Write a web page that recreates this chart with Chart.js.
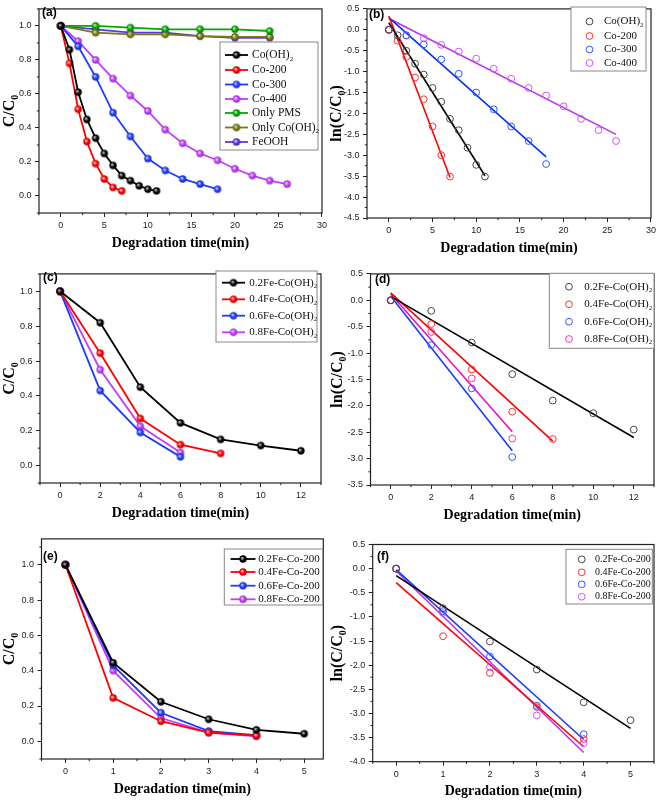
<!DOCTYPE html>
<html><head><meta charset="utf-8">
<script src="https://cdn.jsdelivr.net/npm/chart.js@4.4.1/dist/chart.umd.min.js"></script>
<style>
html,body{margin:0;padding:0;background:#fff;}
body{position:relative;width:659px;height:800px;overflow:hidden;}
canvas{position:absolute;}
</style></head><body>
<canvas id="ca"></canvas><canvas id="cb"></canvas>
<canvas id="cc"></canvas><canvas id="cd"></canvas>
<canvas id="ce"></canvas><canvas id="cf"></canvas>
<script>
// ---------------- DATA ----------------
const xTitle = 'Degradation time(min)';
const yTitleC = 'C/C_0';
const yTitleLn = 'ln(C/C_0)';

// (a) C/C0 vs time
const aT_CoOH2 = [0,1,2,3,4,5,6,7,8,9,10,11];
const aV_CoOH2 = [1.0,0.86,0.61,0.45,0.34,0.25,0.18,0.12,0.09,0.06,0.04,0.03];
const aT_Co200 = [0,1,2,3,4,5,6,7];
const aV_Co200 = [1.0,0.78,0.51,0.32,0.19,0.10,0.05,0.03];
const aT_Co300 = [0,2,4,6,8,10,12,14,16,18];
const aV_Co300 = [1.0,0.88,0.70,0.49,0.35,0.22,0.15,0.10,0.07,0.04];
const aT_Co400 = [0,2,4,6,8,10,12,14,16,18,20,22,24,26];
const aV_Co400 = [1.0,0.91,0.80,0.69,0.59,0.50,0.39,0.31,0.25,0.21,0.16,0.12,0.09,0.07];
const aT_ctrl = [0,4,8,12,16,20,24];
const aV_PMS = [1.0,1.0,0.99,0.98,0.98,0.98,0.97];
const aV_onlyCo = [1.0,0.96,0.95,0.95,0.94,0.935,0.935];
const aV_FeOOH = [1.0,0.98,0.96,0.96,0.94,0.93,0.93];
const aLabels = ['Co(OH)_2','Co-200','Co-300','Co-400','Only PMS','Only Co(OH)_2','FeOOH'];

// (b) ln(C/C0) vs time
const bV_CoOH2 = [0,-0.13,-0.50,-0.81,-1.07,-1.39,-1.72,-2.13,-2.40,-2.82,-3.23,-3.51];
const bV_Co200 = [0,-0.26,-0.65,-1.14,-1.66,-2.31,-3.00,-3.51];
const bV_Co300 = [0,-0.13,-0.35,-0.71,-1.05,-1.50,-1.90,-2.31,-2.66,-3.21];
const bV_Co400 = [0,-0.14,-0.20,-0.36,-0.52,-0.69,-0.93,-1.17,-1.39,-1.57,-1.83,-2.13,-2.40,-2.66];
const bFitT = [11,7,18,26];              // fit end times
const bFitStart = [0.17,0.33,0.29,0.27]; // fit values at t=0
const bFitEnd = [-3.49,-3.53,-3.04,-2.50];
const bLabels = ['Co(OH)_2','Co-200','Co-300','Co-400'];

// (c) C/C0, Fe-Co(OH)2
const cT1 = [0,2,4,6,8,10,12];
const cV1 = [1.0,0.82,0.45,0.245,0.15,0.115,0.085];
const cT2 = [0,2,4,6,8];
const cV2 = [1.0,0.645,0.27,0.12,0.07];
const cT3 = [0,2,4,6];
const cV3 = [1.0,0.43,0.19,0.05];
const cV4 = [1.0,0.55,0.225,0.075];
const cLabels = ['0.2Fe-Co(OH)_2','0.4Fe-Co(OH)_2','0.6Fe-Co(OH)_2','0.8Fe-Co(OH)_2'];

// (d) ln(C/C0), Fe-Co(OH)2
const dV1 = [0,-0.20,-0.80,-1.40,-1.90,-2.14,-2.45];
const dV2 = [0,-0.45,-1.31,-2.11,-2.63];
const dV3 = [0,-0.85,-1.67,-2.97];
const dV4 = [0,-0.60,-1.48,-2.62];
const dFitT = [12,8,6,6];
const dFitStart = [0.075,0.14,0.075,0.12];
const dFitEnd = [-2.60,-2.67,-2.85,-2.49];

// (e) C/C0, Fe-Co-200
const eT1 = [0,1,2,3,4,5];
const eT2 = [0,1,2,3,4];
const eV1 = [1.0,0.445,0.224,0.125,0.065,0.043];
const eV2 = [1.0,0.246,0.114,0.050,0.032];
const eV3 = [1.0,0.43,0.162,0.058,0.035];
const eV4 = [1.0,0.40,0.132,0.049,0.028];
const eLabels = ['0.2Fe-Co-200','0.4Fe-Co-200','0.6Fe-Co-200','0.8Fe-Co-200'];

// (f) ln(C/C0), Fe-Co-200
const fV1 = [0,-0.82,-1.51,-2.09,-2.77,-3.14];
const fV2 = [0,-1.40,-2.16,-2.87,-3.53];
const fV3 = [0,-0.88,-1.82,-2.84,-3.43];
const fV4 = [0,-0.92,-2.04,-3.04,-3.62];
const fFitT = [5,4,4,4];
const fFitStart = [-0.145,-0.29,-0.02,-0.05];
const fFitEnd = [-3.31,-3.69,-3.54,-3.81];

// tick values
const aXTicks = [0,5,10,15,20,25,30];
const aXMinor = [-2.5,2.5,7.5,12.5,17.5,22.5,27.5];
const cYTicks = [0,0.2,0.4,0.6,0.8,1.0];
const cYMinor = [-0.1,0.1,0.3,0.5,0.7,0.9,1.1];
const bYTicks = [-4.5,-4.0,-3.5,-3.0,-2.5,-2.0,-1.5,-1.0,-0.5,0,0.5];
const bYMinor = [-4.25,-3.75,-3.25,-2.75,-2.25,-1.75,-1.25,-0.75,-0.25,0.25];
const cXTicks = [0,2,4,6,8,10,12];
const cXMinor = [-1,1,3,5,7,9,11,13];
const dYTicks = [-3.5,-3.0,-2.5,-2.0,-1.5,-1.0,-0.5,0,0.5];
const dYMinor = [-3.25,-2.75,-2.25,-1.75,-1.25,-0.75,-0.25,0.25];
const eXTicks = [0,1,2,3,4,5];
const eXMinor = [-0.5,0.5,1.5,2.5,3.5,4.5];
const fXMinor = [-0.5,0.5,1.5,2.5,3.5,4.5,5.5];
const fYTicks = [-4.0,-3.5,-3.0,-2.5,-2.0,-1.5,-1.0,-0.5,0,0.5];
const fYMinor = [-3.75,-3.25,-2.75,-2.25,-1.75,-1.25,-0.75,-0.25,0.25];

// ---------------- STYLE / HELPERS ----------------
const C = {black:'#000000', red:'#ff0000', blue:'#1f3cff', violet:'#c23cff', green:'#00aa00', olive:'#7a7a12', indigo:'#5a38e0'};
const SERIF = '"Liberation Serif","Times New Roman",serif';
const SANS = '"Liberation Sans",Arial,sans-serif';

function pts(t, v){ return t.map((x,i)=>({x:x, y:v[i]})); }
function hex2rgb(h){ h=h.replace('#',''); return [parseInt(h.substr(0,2),16),parseInt(h.substr(2,2),16),parseInt(h.substr(4,2),16)]; }
function mix(h, w, f){ const c=hex2rgb(h); const t=w==='w'?255:0; return 'rgb('+c.map(v=>Math.round(v+(t-v)*f)).join(',')+')'; }
const ballCache={};
function ball(color, r){
  const k=color+r; if(ballCache[k]) return ballCache[k];
  const s=Math.ceil(2*r+2), cv=document.createElement('canvas'); cv.width=s; cv.height=s;
  const g=cv.getContext('2d'), cx=s/2, cy=s/2;
  const gr=g.createRadialGradient(cx-r*0.3,cy-r*0.3,0.3,cx,cy,r);
  gr.addColorStop(0, mix(color,'w',0.8)); gr.addColorStop(0.55, color); gr.addColorStop(1, mix(color,'k',0.25));
  g.fillStyle=gr; g.beginPath(); g.arc(cx,cy,r,0,Math.PI*2); g.fill();
  ballCache[k]=cv; return cv;
}
function lineSet(t, v, color){
  return {data:pts(t,v), showLine:true, borderColor:color, borderWidth:1.8, tension:0,
          pointStyle:ball(color,3.7), pointRadius:4, backgroundColor:color};
}
function openSet(t, v, color){
  return {data:pts(t,v), showLine:false, pointStyle:'circle', pointRadius:3.4,
          pointBorderWidth:1, pointBorderColor:color, pointBackgroundColor:'rgba(255,255,255,0)'};
}
function fitSet(t1, s, e, color){
  return {data:[{x:0,y:s},{x:t1,y:e}], showLine:true, borderColor:color, borderWidth:1.6, pointRadius:0, tension:0};
}
function parseRich(str){
  const parts=str.split('_'); const segs=[{t:parts[0],sub:false}];
  for(let i=1;i<parts.length;i++){ segs.push({t:parts[i][0],sub:true}); if(parts[i].length>1) segs.push({t:parts[i].slice(1),sub:false}); }
  return segs;
}
function drawRich(ctx, str, x, y, size, weight, align){
  const segs=parseRich(str);
  const fN=weight+' '+size+'px '+SERIF, fS=weight+' '+(size*0.62)+'px '+SERIF;
  let w=0; segs.forEach(s=>{ ctx.font=s.sub?fS:fN; s.w=ctx.measureText(s.t).width; w+=s.w; });
  let cx = align==='center'? x-w/2 : x;
  ctx.textBaseline='middle'; ctx.textAlign='left';
  segs.forEach(s=>{ ctx.font=s.sub?fS:fN; ctx.fillText(s.t, cx, s.sub? y+size*0.32 : y); cx+=s.w; });
}

// ---------------- PANELS ----------------
const panels = [
 {id:'ca', box:{x:0,y:0,w:330,h:265}, area:{l:39,r:322,t:2,b:213}, xr:[-2.5,30], yr:[-0.1,1.1],
  xt:aXTicks, xm:aXMinor, yt:cYTicks, ym:cYMinor, yd:1, yTitle:yTitleC, yTitleX:10, tag:'(a)', tagPos:[42,13],
  datasets:[lineSet(aT_CoOH2,aV_CoOH2,C.black), lineSet(aT_Co200,aV_Co200,C.red), lineSet(aT_Co300,aV_Co300,C.blue),
            lineSet(aT_Co400,aV_Co400,C.violet), lineSet(aT_ctrl,aV_PMS,C.green), lineSet(aT_ctrl,aV_onlyCo,C.olive),
            lineSet(aT_ctrl,aV_FeOOH,C.indigo)],
  legend:{box:[220,42,98,108], rows:[55,70,84.5,99,113,127.5,142], mx:236.5, hl:11.5, tx:252, size:11.5, kind:'ball',
          labels:aLabels, colors:[C.black,C.red,C.blue,C.violet,C.green,C.olive,C.indigo]}},
 {id:'cb', box:{x:330,y:0,w:329,h:265}, area:{l:367,r:651,t:6,b:218}, xr:[-2.5,30], yr:[-4.5,0.5],
  xt:aXTicks, xm:aXMinor, yt:bYTicks, ym:bYMinor, yd:1, yTitle:yTitleLn, yTitleX:337, tag:'(b)', tagPos:[369,15],
  datasets:[openSet(aT_CoOH2,bV_CoOH2,'#444444'), openSet(aT_Co200,bV_Co200,'#ff3030'), openSet(aT_Co300,bV_Co300,'#3355ff'),
            openSet(aT_Co400,bV_Co400,'#cc55ff'),
            fitSet(bFitT[0],bFitStart[0],bFitEnd[0],'#000000'), fitSet(bFitT[1],bFitStart[1],bFitEnd[1],'#ff0000'),
            fitSet(bFitT[2],bFitStart[2],bFitEnd[2],'#0033ff'), fitSet(bFitT[3],bFitStart[3],bFitEnd[3],'#bb33ee')],
  legend:{box:[571,7,75,64], rows:[21.5,36,49.5,63], mx:589.5, tx:604, size:11, kind:'open',
          labels:bLabels, colors:['#444444','#ff3030','#3355ff','#cc55ff']}},
 {id:'cc', box:{x:0,y:265,w:330,h:265}, area:{l:40,r:321,t:269.5,b:483}, xr:[-1,13], yr:[-0.1,1.1],
  xt:cXTicks, xm:cXMinor, yt:cYTicks, ym:cYMinor, yd:1, yTitle:yTitleC, yTitleX:10, tag:'(c)', tagPos:[43,278],
  datasets:[lineSet(cT1,cV1,C.black), lineSet(cT2,cV2,C.red), lineSet(cT3,cV3,C.blue), lineSet(cT3,cV4,C.violet)],
  legend:{box:[216,271,101,71], rows:[282.7,299.3,315.7,332.3], mx:233.5, hl:11.5, tx:249.3, size:11, kind:'ball',
          labels:cLabels, colors:[C.black,C.red,C.blue,C.violet]}},
 {id:'cd', box:{x:330,y:265,w:329,h:265}, area:{l:370.5,r:655.5,t:270.5,b:485}, xr:[-1,13], yr:[-3.5,0.5],
  xt:cXTicks, xm:cXMinor, yt:dYTicks, ym:dYMinor, yd:1, yTitle:yTitleLn, yTitleX:338, tag:'(d)', tagPos:[375,280],
  datasets:[openSet(cT1,dV1,'#444444'), openSet(cT2,dV2,'#ff3030'), openSet(cT3,dV3,'#3355ff'), openSet(cT3,dV4,'#ff3399'),
            fitSet(dFitT[0],dFitStart[0],dFitEnd[0],'#000000'), fitSet(dFitT[1],dFitStart[1],dFitEnd[1],'#ff0000'),
            fitSet(dFitT[2],dFitStart[2],dFitEnd[2],'#1a3cff'), fitSet(dFitT[3],dFitStart[3],dFitEnd[3],'#ee11bb')],
  legend:{box:[549.3,273.3,104.7,75], rows:[286.7,304.3,321.7,339], mx:569, tx:584.3, size:11, kind:'open',
          labels:cLabels, colors:['#444444','#ff3030','#3355ff','#ff3399']}},
 {id:'ce', box:{x:0,y:530,w:330,h:270}, area:{l:41.5,r:323.3,t:536.5,b:759}, xr:[-0.5,5.4], yr:[-0.1,1.146],
  xt:eXTicks, xm:eXMinor, yt:cYTicks, ym:cYMinor, yd:1, yTitle:yTitleC, yTitleX:10, tag:'(e)', tagPos:[43,557],
  datasets:[lineSet(eT1,eV1,C.black), lineSet(eT2,eV2,C.red), lineSet(eT2,eV3,C.blue), lineSet(eT2,eV4,C.violet)],
  legend:{box:[224.3,549,98.4,56], rows:[559,572,585.7,599.3], mx:243, hl:12.5, tx:258.3, size:11, kind:'ball',
          labels:eLabels, colors:[C.black,C.red,C.blue,C.violet]}},
 {id:'cf', box:{x:330,y:530,w:329,h:270}, area:{l:372.7,r:656.7,t:544.5,b:761.7}, xr:[-0.5,5.5], yr:[-4.0,0.5],
  xt:eXTicks, xm:fXMinor, yt:fYTicks, ym:fYMinor, yd:1, yTitle:yTitleLn, yTitleX:338, tag:'(f)', tagPos:[377,557],
  datasets:[openSet(eT1,fV1,'#444444'), openSet(eT2,fV2,'#ff3030'), openSet(eT2,fV3,'#3355ff'), openSet(eT2,fV4,'#cc55ff'),
            fitSet(fFitT[0],fFitStart[0],fFitEnd[0],'#000000'), fitSet(fFitT[1],fFitStart[1],fFitEnd[1],'#ff0000'),
            fitSet(fFitT[2],fFitStart[2],fFitEnd[2],'#1a3cff'), fitSet(fFitT[3],fFitStart[3],fFitEnd[3],'#bb33ee')],
  legend:{box:[566,549.3,86.3,54.7], rows:[559.3,572.3,584.3,596.7], mx:581.7, tx:595, size:10, kind:'open',
          labels:eLabels, colors:['#444444','#ff3030','#3355ff','#cc55ff']}}
];

function build(p){
  const cv=document.getElementById(p.id);
  cv.width=p.box.w; cv.height=p.box.h;
  cv.style.left=p.box.x+'px'; cv.style.top=p.box.y+'px';
  cv.style.width=p.box.w+'px'; cv.style.height=p.box.h+'px';
  const X=v=>v-p.box.x, Y=v=>v-p.box.y;
  const tickFont={family:SANS, size:9};
  const grid={drawOnChartArea:false, drawTicks:true, tickLength:4, color:'#222', lineWidth:1};
  const deco={
    id:'deco_'+p.id,
    afterDraw(chart){
      const ctx=chart.ctx, a=chart.chartArea, xs=chart.scales.x, ys=chart.scales.y;
      ctx.save();
      // frame
      ctx.strokeStyle='#222'; ctx.lineWidth=1.2;
      ctx.strokeRect(a.left,a.top,a.right-a.left,a.bottom-a.top);
      // minor ticks
      ctx.lineWidth=1; ctx.beginPath();
      p.xm.forEach(v=>{ const px=xs.getPixelForValue(v); ctx.moveTo(px,a.bottom); ctx.lineTo(px,a.bottom+2.2); });
      p.ym.forEach(v=>{ const py=ys.getPixelForValue(v); ctx.moveTo(a.left,py); ctx.lineTo(a.left-2.2,py); });
      ctx.stroke();
      // axis titles
      ctx.fillStyle='#000';
      drawRich(ctx, xTitle, (a.left+a.right)/2, a.bottom+30, 14, 'bold', 'center');
      ctx.save(); ctx.translate(X(p.yTitleX), (a.top+a.bottom)/2); ctx.rotate(-Math.PI/2);
      drawRich(ctx, p.yTitle, 0, 0, 16, 'bold', 'center'); ctx.restore();
      // panel tag
      ctx.font='bold 12px '+SANS; ctx.textBaseline='middle'; ctx.textAlign='left';
      ctx.fillText(p.tag, X(p.tagPos[0]), Y(p.tagPos[1]));
      // legend
      const L=p.legend;
      ctx.fillStyle='#fff'; ctx.fillRect(X(L.box[0]),Y(L.box[1]),L.box[2],L.box[3]);
      ctx.strokeStyle='#888'; ctx.lineWidth=1; ctx.strokeRect(X(L.box[0]),Y(L.box[1]),L.box[2],L.box[3]);
      L.labels.forEach((lab,i)=>{
        const yy=Y(L.rows[i]), col=L.colors[i], mx=X(L.mx);
        if(L.kind==='ball'){
          ctx.strokeStyle=col; ctx.lineWidth=1.8; ctx.beginPath(); ctx.moveTo(mx-L.hl,yy); ctx.lineTo(mx+L.hl,yy); ctx.stroke();
          const b=ball(col,3.7); ctx.drawImage(b, mx-b.width/2, yy-b.height/2);
        } else {
          ctx.strokeStyle=col; ctx.lineWidth=1; ctx.beginPath(); ctx.arc(mx,yy,3.4,0,Math.PI*2); ctx.stroke();
        }
        ctx.fillStyle='#111';
        drawRich(ctx, lab, X(L.tx), yy, L.size, 'normal', 'left');
      });
      ctx.restore();
    }
  };
  new Chart(cv, {
    type:'scatter',
    data:{datasets:p.datasets},
    options:{
      responsive:false, animation:false, devicePixelRatio:1,
      layout:{padding:{top:p.area.t-p.box.y, right:p.box.x+p.box.w-p.area.r, left:0, bottom:0}},
      plugins:{legend:{display:false}, tooltip:{enabled:false}},
      scales:{
        x:{type:'linear', min:p.xr[0], max:p.xr[1],
           afterFit(s){ s.height=p.box.y+p.box.h-p.area.b; },
           afterBuildTicks(s){ s.ticks=p.xt.map(v=>({value:v})); },
           ticks:{font:tickFont, color:'#222', padding:3, maxRotation:0, autoSkip:false, callback:v=>String(v)},
           grid:grid, border:{display:false}},
        y:{type:'linear', min:p.yr[0], max:p.yr[1],
           afterFit(s){ s.width=p.area.l-p.box.x; },
           afterBuildTicks(s){ s.ticks=p.yt.map(v=>({value:v})); },
           ticks:{font:tickFont, color:'#222', padding:3.5, autoSkip:false, callback:v=>Number(v).toFixed(p.yd)},
           grid:grid, border:{display:false}}
      }
    },
    plugins:[deco]
  });
}
panels.forEach(build);
</script>
</body></html>
